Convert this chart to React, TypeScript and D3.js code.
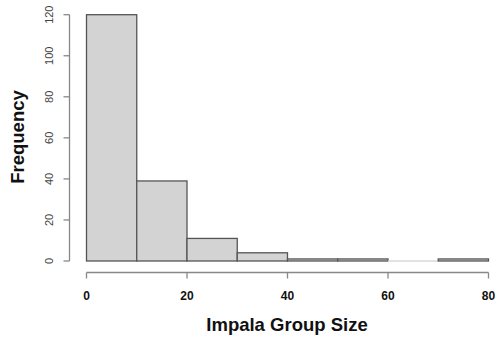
import React from "react";
import * as d3 from "d3";

// Histogram of impala group sizes (bin width 10)
const binStarts = [0, 10, 20, 30, 40, 50, 60, 70];
const binWidth = 10;
const counts = [120, 39, 11, 4, 1, 1, 0, 1];
const xTicks = [0, 20, 40, 60, 80];
const yTicks = [0, 20, 40, 60, 80, 100, 120];

const W = 497;
const H = 339;
const font = "'Liberation Sans', Arial, sans-serif";

export default function App() {
  const x = d3.scaleLinear().domain([0, 80]).range([86.5, 488.5]);
  const y = d3.scaleLinear().domain([0, 120]).range([261, 14.7]);
  const axisY = 272.5;
  const axisX = 69.5;

  return (
    <svg
      width={W}
      height={H}
      style={{ position: "absolute", left: 0, top: 0, background: "#fff" }}
      fontFamily={font}
    >
      {/* bars */}
      {binStarts.map((s, i) => {
        const x0 = x(s);
        const x1 = x(s + binWidth);
        const top = y(counts[i]);
        const base = y(0);
        if (counts[i] === 0) {
          return (
            <line key={i} x1={x0} x2={x1} y1={base} y2={base} stroke="#d8d8d8" strokeWidth={1.3} />
          );
        }
        return (
          <rect
            key={i}
            x={x0}
            y={top}
            width={x1 - x0}
            height={base - top}
            fill="#d3d3d3"
            stroke="#555"
            strokeWidth={1.3}
          />
        );
      })}

      {/* x axis */}
      <line x1={x(0)} x2={x(80)} y1={axisY} y2={axisY} stroke="#888" strokeWidth={1.3} />
      {xTicks.map((t) => (
        <g key={t}>
          <line x1={x(t)} x2={x(t)} y1={axisY} y2={axisY + 6} stroke="#888" strokeWidth={1.3} />
          <text
            x={x(t)}
            y={300}
            textAnchor="middle"
            fontSize={12}
            fontWeight="bold"
            fill="#111"
          >
            {t}
          </text>
        </g>
      ))}
      <text x={287} y={331} textAnchor="middle" fontSize={18.5} fontWeight="bold" fill="#111">
        Impala Group Size
      </text>

      {/* y axis */}
      <line x1={axisX} x2={axisX} y1={y(0)} y2={y(120)} stroke="#888" strokeWidth={1.3} />
      {yTicks.map((t) => (
        <g key={t}>
          <line x1={axisX - 6} x2={axisX} y1={y(t)} y2={y(t)} stroke="#888" strokeWidth={1.3} />
          <text
            transform={`translate(53, ${y(t)}) rotate(-90)`}
            textAnchor="middle"
            fontSize={11}
            fill="#444"
          >
            {t}
          </text>
        </g>
      ))}
      <text
        transform={`translate(24, 137) rotate(-90)`}
        textAnchor="middle"
        fontSize={18.5}
        fontWeight="bold"
        fill="#111"
      >
        Frequency
      </text>
    </svg>
  );
}
